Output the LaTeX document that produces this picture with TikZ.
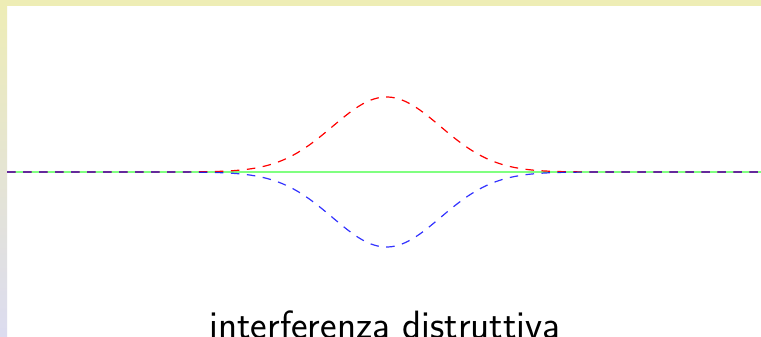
\documentclass[tikz,border=0pt]{standalone}
\usetikzlibrary{shadings}
\definecolor{baryellow}{HTML}{EEEDB5}
\definecolor{barlav}{HTML}{DCDCF0}
\definecolor{lgreen}{HTML}{80FF80}
\tikzset{
  wave/.style={line width=1.2pt, dash pattern=on 8.5pt off 7.5pt},
}
\begin{document}
\begin{tikzpicture}[x=1pt,y=1pt]
\useasboundingbox (0,0) rectangle (761,337);
\fill[white] (0,0) rectangle (761,337);
% frame bars
\shade[top color=baryellow, bottom color=barlav] (0,0) rectangle (7,337);
\fill[baryellow] (0,331) rectangle (761,337);
% green sum line
\draw[lgreen, line width=2pt] (7,165) -- (761,165);
% red wave (crest)
\draw[wave, red] (7,165) -- (170.5,165)
  -- plot[domain=-4:4, samples=120, smooth] ({386.5+54*\x},{165+75*exp(-(\x*\x)/2)})
  -- (761,165);
% blue wave (trough)
\draw[wave, blue, draw opacity=0.8] (7,165) -- (170.5,165)
  -- plot[domain=-4:4, samples=120, smooth] ({386.5+54*\x},{165-75*exp(-(\x*\x)/2)})
  -- (761,165);
% label
\node[anchor=base, inner sep=0pt, font=\sffamily\fontsize{39.5}{46}\selectfont] (lbl) at (385,-1.5) {interferenza distruttiva};
\end{tikzpicture}
\end{document}
